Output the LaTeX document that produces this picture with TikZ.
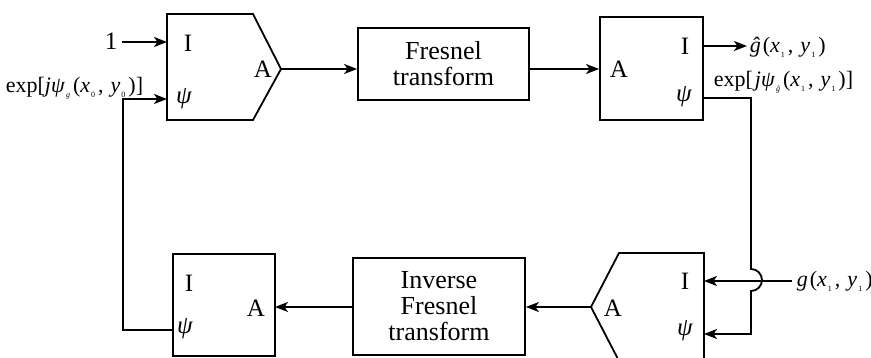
\documentclass[tikz,border=0pt]{standalone}
\usepackage{fontspec}
\setmainfont{Liberation Serif}
\usetikzlibrary{arrows.meta}
\newcommand{\sbx}[1]{\hspace{1pt}\raisebox{-0.4ex}{\fontsize{8}{8}\selectfont #1}\hspace{3pt}}
\newcommand{\cmsp}{,\hspace{7pt}}
\begin{document}
\begin{tikzpicture}[x=1pt,y=-1pt,
  line width=1.8pt,
  arr/.style={-{Stealth[length=13pt,width=10pt,inset=3.5pt]}},
  blk/.style={draw,rectangle,inner sep=0pt,align=center,font=\fontsize{26}{26}\selectfont},
  port/.style={inner sep=0pt,font=\fontsize{25}{26}\selectfont},
  lbl/.style={inner sep=0pt,font=\fontsize{22}{22}\selectfont}]
\useasboundingbox (0,0) rectangle (871,358);
% top-left pentagon
\draw (167,14) -- (253,14) -- (281,69) -- (253,120) -- (167,120) -- cycle;
\coordinate (p1i) at (167,42);
\coordinate (p1p) at (167,99);
\coordinate (p1a) at (281,69);
\node[port] (p1I) at (188,43) {I};
\node[port] (p1P) at (184,99) {\textit{ψ}};
\node[port] (p1A) at (263,69) {A};
% Fresnel
\node[blk,minimum width=171pt,minimum height=72pt] (fr) at (443.5,64) {Fresnel\\transform};
% top-right box
\node[blk,minimum width=103pt,minimum height=103pt] (b2) at (651.5,68.5) {};
\node[port] (b2A) at (619,69) {A};
\node[port] (b2I) at (685,46) {I};
\node[port] (b2P) at (684,97) {\textit{ψ}};
\coordinate (b2i) at (703,46);
\coordinate (b2p) at (703,98);
% bottom-right pentagon
\draw (704,253) -- (619,253) -- (591,307) -- (619,361) -- (704,361) -- cycle;
\coordinate (p2i) at (704,281);
\coordinate (p2p) at (704,334);
\coordinate (p2a) at (591,307);
\node[port] (p2I) at (685,281) {I};
\node[port] (p2A) at (613,308) {A};
\node[port] (p2P) at (685,331) {\textit{ψ}};
% inverse Fresnel
\node[blk,minimum width=172pt,minimum height=97pt] (ifr) at (439,306.5) {Inverse\\Fresnel\\transform};
% bottom-left box
\node[blk,minimum width=102pt,minimum height=102pt] (b3) at (224,305) {};
\node[port] (b3I) at (189,283) {I};
\node[port] (b3A) at (256,308) {A};
\node[port] (b3P) at (185,329) {\textit{ψ}};
\coordinate (b3p) at (173,330);
\coordinate (b3a) at (275,307);
% labels
\node[port,anchor=base] (one) at (111,50) {1};
\node[lbl,anchor=base west] (lexp0) at (5,93) {exp[\textit{jψ}\sbx{\textit{g}}(\textit{x}\sbx{0}\cmsp\textit{y}\sbx{0})]};
\node[lbl,anchor=base west] (lghat) at (749,53) {\textit{ĝ}\hspace{2pt}(\textit{x}\sbx{1}\cmsp\textit{y}\sbx{1})};
\node[lbl,anchor=base west] (lexp1) at (713,87) {exp[\hspace{2pt}\textit{jψ}\sbx{\textit{ĝ}}(\textit{x}\sbx{1}\cmsp\textit{y}\sbx{1})]};
\node[lbl,anchor=base west] (lg) at (796,287) {\textit{g}\hspace{2pt}(\textit{x}\sbx{1}\cmsp\textit{y}\sbx{1})};
\coordinate (gstart) at (792,281);
\coordinate (onee) at (122,42);
% connectors
\draw[arr] (onee) -- (p1i);
\draw[arr] (b3p) -- (123,330) -- (123,99) -- (p1p);
\draw[arr] (p1a) -- (fr.west |- p1a);
\draw[arr] (fr.east |- p1a) -- (b2.west |- p1a);
\draw[arr] (b2i) -- (747,46);
\draw[arr] (b2p) -- (751,98) -- (751,269) arc[start angle=90,end angle=-90,radius=11pt] -- (751,334) -- (p2p);
\draw[arr] (gstart) -- (p2i);
\draw[arr] (p2a) -- (ifr.east |- p2a);
\draw[arr] (ifr.west |- b3a) -- (b3a);
\end{tikzpicture}
\end{document}
